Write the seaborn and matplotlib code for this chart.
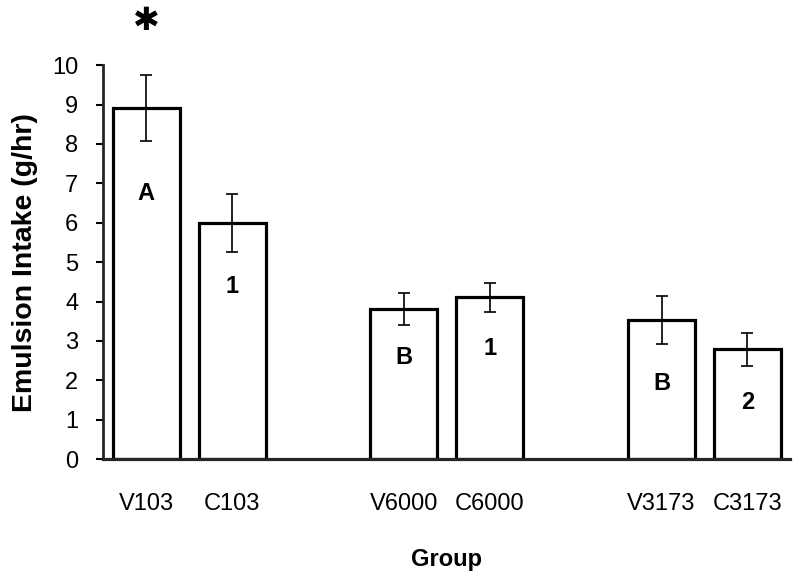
import matplotlib
matplotlib.use("Agg")
import pandas as pd
import matplotlib.pyplot as plt
import seaborn as sns

# values
groups = ["V103", "C103", "V6000", "C6000", "V3173", "C3173"]
intake = [8.91, 5.99, 3.81, 4.11, 3.53, 2.79]
sem = [0.83, 0.74, 0.40, 0.37, 0.61, 0.42]
letters = ["A", "1", "B", "1", "B", "2"]
letter_y = [6.74, 4.39, 2.59, 2.82, 1.93, 1.45]

# empty slots between the pairs
order = ["V103", "C103", "gap1", "V6000", "C6000", "gap2", "V3173", "C3173"]

df = pd.DataFrame({"Group": groups, "Intake": intake, "SEM": sem})

sns.set_style("ticks")
plt.rcParams["font.family"] = ["Liberation Sans", "DejaVu Sans"]
plt.rcParams["text.color"] = "black"
plt.rcParams["axes.labelcolor"] = "black"
plt.rcParams["xtick.color"] = "black"
plt.rcParams["ytick.color"] = "black"

fig = plt.figure(figsize=(8, 5.82), dpi=100)
ax = fig.add_axes([0.129, 0.211, 0.859, 0.677])

sns.barplot(data=df, x="Group", y="Intake", order=order, color="white",
            edgecolor="black", linewidth=2.3, width=0.78, errorbar=None, ax=ax)

pos = [order.index(g) for g in groups]
ax.errorbar(pos, df["Intake"], yerr=df["SEM"], fmt="none", ecolor="black",
            elinewidth=1.2, capsize=4, capthick=1.2)

for p, t, y in zip(pos, letters, letter_y):
    ax.text(p, y, t, ha="center", va="center", fontsize=17, fontweight="bold")

# significance star above V103
ax.text(pos[0], 11.1, "\u2731", ha="center", va="center", fontsize=23,
        family="DejaVu Sans", clip_on=False)

ax.set_xlim(-0.5, 7.5)
ax.set_ylim(0, 10)
ax.set_yticks(range(0, 11))
ax.set_xticks(range(len(order)))
ax.set_xticklabels([g if g in groups else "" for g in order])
ax.tick_params(axis="x", length=0, pad=24, labelsize=17)
ax.tick_params(axis="y", length=5, width=1.5, labelsize=17, direction="out", pad=13)

ax.set_ylabel("Emulsion Intake (g/hr)", fontsize=20.5, fontweight="bold", labelpad=10)
ax.set_xlabel("Group", fontsize=17, fontweight="bold", labelpad=24)

sns.despine(ax=ax)
ax.spines["left"].set_linewidth(2)
ax.spines["bottom"].set_linewidth(2.3)

fig.savefig("out.png", dpi=100)
